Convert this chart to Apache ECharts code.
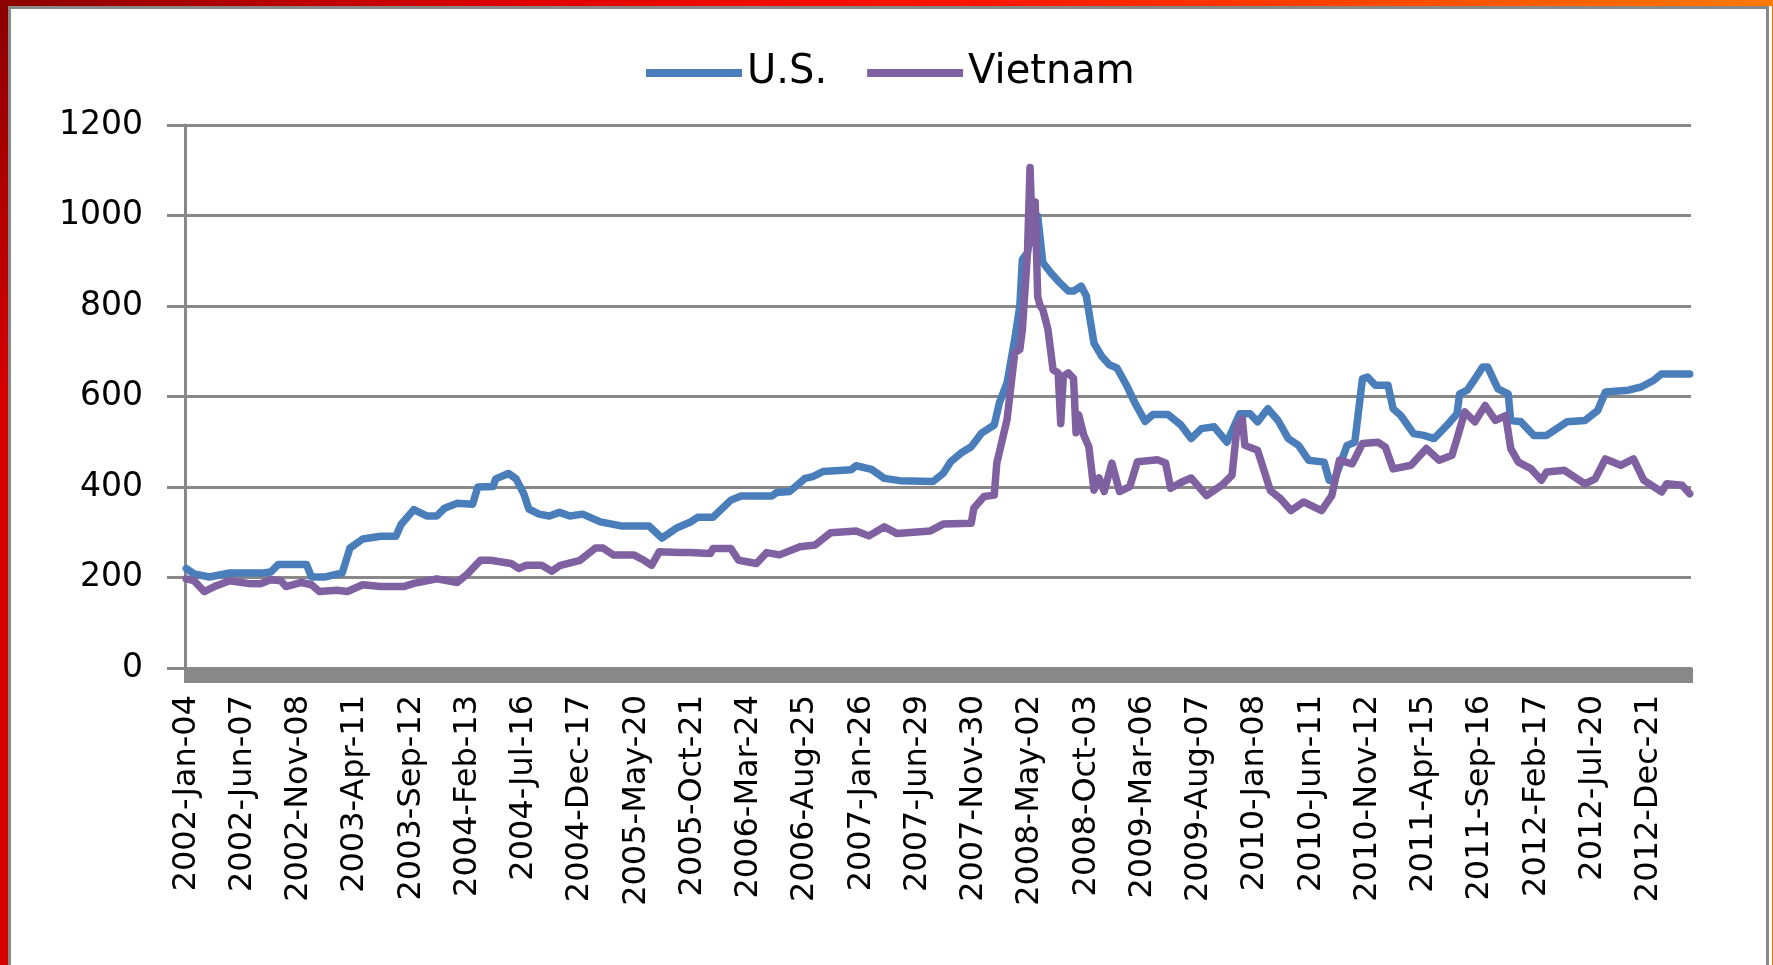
<!DOCTYPE html>
<html>
<head>
<meta charset="utf-8">
<script src="https://cdn.jsdelivr.net/npm/echarts@6/dist/echarts.min.js"></script>
<style>
  html, body { margin: 0; padding: 0; background: #fff; }
  #wrap { position: relative; width: 1773px; height: 965px; overflow: hidden; background: #fff; }
  #topbar { position: absolute; left: 0; top: 0; width: 1773px; height: 6px;
    background: linear-gradient(to right, #8b0000 0%, #e00000 30%, #ff1500 55%, #ff7a00 100%); }
  #leftbar { position: absolute; left: 0; top: 0; width: 8px; height: 965px;
    background: linear-gradient(to bottom, #8b0000 0%, #d40000 40%, #d40000 100%); }
  #rightbar { position: absolute; right: 0; top: 0; width: 1px; height: 965px; background: #ff7a00; }
  #frame { position: absolute; left: 8px; top: 6px; width: 1761px; height: 980px;
    border-left: 3px solid #888; border-top: 3px solid #888; border-right: 3px solid #888; box-sizing: border-box; }
  #chart { position: absolute; left: 0; top: 0; width: 1773px; height: 965px; }
</style>
</head>
<body>
<div id="wrap">
  <div id="chart"></div>
  <div id="topbar"></div>
  <div id="leftbar"></div>
  <div id="rightbar"></div>
  <div id="frame"></div>
</div>
<script>
// weekly prices, one category per Friday starting 2002-Jan-04
const startDate = new Date(Date.UTC(2002, 0, 4));
const weekCount = 589;
const tickLabels = [
  "2002-Jan-04", "2002-Jun-07", "2002-Nov-08", "2003-Apr-11", "2003-Sep-12",
  "2004-Feb-13", "2004-Jul-16", "2004-Dec-17", "2005-May-20", "2005-Oct-21",
  "2006-Mar-24", "2006-Aug-25", "2007-Jan-26", "2007-Jun-29", "2007-Nov-30",
  "2008-May-02", "2008-Oct-03", "2009-Mar-06", "2009-Aug-07", "2010-Jan-08",
  "2010-Jun-11", "2010-Nov-12", "2011-Apr-15", "2011-Sep-16", "2012-Feb-17",
  "2012-Jul-20", "2012-Dec-21"
];
const tickStep = 22;

// U.S. (week index, price)
const usWeek = [0, 3, 9, 17, 30, 33, 36, 47, 49, 54, 61, 64, 69, 76, 82, 84, 89, 94, 98, 101,
  106, 112, 114, 120, 121, 126, 129, 132, 134, 138, 142, 146, 150, 155, 162, 170, 181, 186, 192, 197,
  200, 206, 213, 217, 229, 231, 236, 242, 245, 249, 260, 262, 268, 273, 279, 292, 296, 299, 303, 307,
  311, 316, 318, 321, 324, 326, 327, 329, 330, 333, 335, 338, 341, 345, 347, 350, 352, 355, 358, 361,
  364, 368, 371, 375, 378, 384, 389, 393, 397, 402, 407, 412, 416, 419, 423, 427, 431, 435, 439, 445,
  447, 449, 454, 457, 460, 462, 465, 470, 472, 475, 480, 484, 488, 493, 497, 498, 501, 504, 507, 509,
  513, 517, 518, 522, 527, 532, 540, 547, 552, 555, 564, 569, 574, 577, 582, 588];
const usPrice = [220, 208, 201, 210, 210, 212, 229, 229, 201, 201, 210, 265, 285, 291, 291, 317, 350, 336, 336, 353,
  364, 362, 400, 401, 418, 430, 418, 385, 351, 340, 336, 344, 336, 340, 323, 314, 314, 287, 310, 322,
  333, 333, 371, 380, 380, 388, 390, 419, 423, 434, 438, 447, 439, 419, 414, 412, 430, 456, 475, 489,
  519, 537, 586, 630, 726, 800, 903, 918, 955, 999, 896, 874, 855, 833, 833, 844, 822, 718, 689, 670,
  663, 622, 586, 545, 560, 560, 537, 507, 529, 533, 499, 562, 562, 544, 573, 547, 507, 492, 459, 455,
  415, 415, 492, 499, 639, 643, 625, 625, 573, 558, 518, 514, 507, 536, 562, 606, 614, 639, 665, 665,
  617, 606, 547, 544, 514, 514, 544, 547, 569, 610, 614, 621, 636, 650, 650, 650];

// Vietnam (week index, price)
const vnWeek = [0, 3, 7, 11, 17, 24, 29, 33, 37, 39, 45, 49, 52, 59, 63, 69, 76, 85, 89, 98,
  106, 110, 115, 119, 127, 130, 133, 139, 143, 146, 154, 160, 163, 167, 175, 179, 182, 185, 193, 197,
  205, 206, 213, 216, 223, 227, 232, 240, 246, 252, 262, 267, 273, 278, 291, 296, 307, 308, 312, 316,
  317, 321, 324, 326, 327, 329, 330, 331, 332, 333, 334, 335, 337, 339, 341, 342, 343, 345, 347, 348,
  349, 351, 353, 355, 357, 359, 362, 365, 369, 372, 380, 383, 385, 389, 393, 399, 405, 409, 411, 413,
  414, 419, 424, 428, 432, 437, 444, 448, 451, 456, 460, 466, 469, 472, 479, 485, 490, 495, 497, 500,
  504, 508, 512, 516, 518, 521, 526, 530, 532, 539, 547, 551, 555, 561, 566, 570, 577, 579, 585, 588];
const vnPrice = [197, 193, 169, 180, 193, 187, 186, 195, 193, 180, 189, 184, 169, 172, 169, 184, 180, 180, 187, 197,
  189, 208, 238, 238, 231, 220, 227, 227, 214, 226, 238, 265, 265, 250, 250, 238, 227, 257, 255, 255,
  253, 264, 264, 238, 231, 255, 250, 268, 272, 299, 303, 292, 312, 297, 303, 318, 320, 353, 379, 382,
  453, 549, 696, 704, 748, 918, 1106, 940, 1030, 820, 800, 792, 748, 659, 652, 540, 645, 652, 640, 520,
  560, 515, 489, 393, 420, 390, 453, 390, 401, 456, 460, 453, 397, 410, 420, 381, 404, 426, 536, 551,
  492, 481, 392, 374, 348, 367, 348, 381, 459, 451, 496, 499, 488, 440, 448, 485, 459, 470, 507, 566,
  544, 580, 547, 558, 485, 455, 440, 415, 433, 437, 407, 418, 462, 448, 462, 415, 389, 407, 404, 385];

const monthNames = ["Jan", "Feb", "Mar", "Apr", "May", "Jun", "Jul", "Aug", "Sep", "Oct", "Nov", "Dec"];
const categories = [];
for (let i = 0; i < weekCount; i++) {
  const d = new Date(startDate.getTime() + i * 7 * 86400000);
  const dd = String(d.getUTCDate()).padStart(2, "0");
  categories.push(d.getUTCFullYear() + "-" + monthNames[d.getUTCMonth()] + "-" + dd);
}

const chart = echarts.init(document.getElementById("chart"));
chart.setOption({
  animation: false,
  textStyle: { fontFamily: "DejaVu Sans" },
  legend: {
    left: 641,
    top: 48,
    icon: "rect",
    itemWidth: 96,
    itemHeight: 8,
    itemGap: 40,
    textStyle: { fontSize: 40, color: "#000", fontFamily: "DejaVu Sans" },
    data: ["U.S.", "Vietnam"],
  },
  grid: { left: 185, right: 82, top: 125, bottom: 297 },
  xAxis: {
    type: "category",
    data: categories,
    boundaryGap: true,
    axisLine: { show: true, lineStyle: { color: "#888", width: 3 } },
    axisTick: { show: true, interval: 0, length: 15, lineStyle: { color: "#888", width: 3 } },
    axisLabel: {
      interval: tickStep - 1,
      rotate: 90,
      margin: 27,
      fontSize: 32,
      color: "#000",
      fontFamily: "DejaVu Sans",
      formatter: (value, index) => tickLabels[index / tickStep] || value,
    },
    splitLine: { show: false },
  },
  yAxis: {
    type: "value",
    min: 0,
    max: 1200,
    interval: 200,
    axisLine: { show: true, lineStyle: { color: "#888", width: 3 } },
    axisTick: { show: true, length: 18, lineStyle: { color: "#888", width: 3 } },
    axisLabel: {
      margin: 42,
      fontSize: 33,
      color: "#000",
      fontFamily: "DejaVu Sans",
      formatter: (v) => String(v),
    },
    splitLine: { show: true, lineStyle: { color: "#888", width: 3 } },
  },
  series: [
    {
      name: "U.S.",
      type: "line",
      data: usWeek.map((w, i) => [w, usPrice[i]]),
      showSymbol: false,
      symbol: "none",
      lineStyle: { color: "#4A7EBB", width: 7.5, join: "round", cap: "round" },
      itemStyle: { color: "#4A7EBB" },
    },
    {
      name: "Vietnam",
      type: "line",
      data: vnWeek.map((w, i) => [w, vnPrice[i]]),
      showSymbol: false,
      symbol: "none",
      lineStyle: { color: "#7F60A0", width: 7.5, join: "round", cap: "round" },
      itemStyle: { color: "#7F60A0" },
    },
  ],
});
</script>
</body>
</html>
